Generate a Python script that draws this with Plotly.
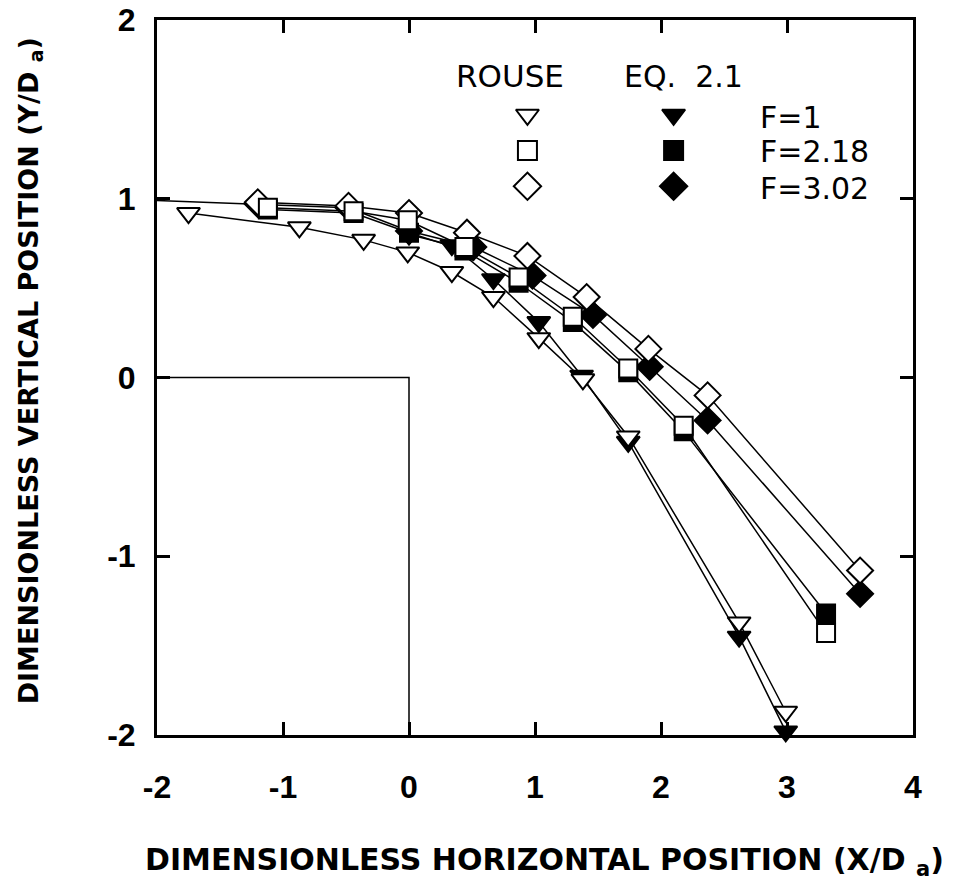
import plotly.graph_objects as go

# ---- data ----
ROUSE_F1_X = [-1.75, -0.87, -0.36, -0.01, 0.34, 0.67, 1.03, 1.38, 1.74, 2.62, 2.99]
ROUSE_F1_Y = [0.92, 0.84, 0.77, 0.70, 0.59, 0.45, 0.22, -0.01, -0.33, -1.37, -1.87]

EQ_F1_X = [0.0, 0.34, 0.67, 1.03, 1.37, 1.74, 2.62, 2.99]
EQ_F1_Y = [0.80, 0.74, 0.55, 0.31, 0.01, -0.36, -1.45, -1.98]

ROUSE_F218_X = [-1.12, -0.44, -0.01, 0.44, 0.87, 1.30, 1.74, 2.18, 3.31]
ROUSE_F218_Y = [0.95, 0.93, 0.88, 0.73, 0.56, 0.34, 0.05, -0.27, -1.43]

EQ_F218_X = [-1.12, -0.44, 0.0, 0.44, 0.87, 1.30, 1.74, 2.18, 3.31]
EQ_F218_Y = [0.94, 0.92, 0.81, 0.71, 0.53, 0.31, 0.03, -0.30, -1.32]

ROUSE_F302_X = [-1.20, -0.48, 0.0, 0.46, 0.94, 1.41, 1.90, 2.37, 3.58]
ROUSE_F302_Y = [0.98, 0.96, 0.92, 0.81, 0.68, 0.45, 0.16, -0.10, -1.08]

EQ_F302_X = [-2.0, -1.20, -0.48, 0.0, 0.51, 0.98, 1.46, 1.91, 2.37, 3.58]
EQ_F302_Y = [0.99, 0.97, 0.95, 0.82, 0.73, 0.57, 0.35, 0.06, -0.24, -1.21]

WALL_X = [-2, 0, 0]
WALL_Y = [0, 0, -2]

LEGEND_LABELS = ["F=1", "F=2.18", "F=3.02"]
LEGEND_COL_X = [0.94, 2.10]          # legend key columns (ROUSE, EQ. 2.1)
LEGEND_ROW_Y = [1.47, 1.27, 1.07]    # legend key rows

X_TICKS = [-2, -1, 0, 1, 2, 3, 4]
Y_TICKS = [-2, -1, 0, 1, 2]

FONT = "Liberation Sans, Arial, sans-serif"
LFONT = "DejaVu Sans, sans-serif"

fig = go.Figure()

# wall outline
fig.add_trace(go.Scatter(x=WALL_X, y=WALL_Y, mode="lines",
                         line=dict(color="black", width=1.5),
                         hoverinfo="skip", showlegend=False))

def add_series(xs, ys, symbol, filled, size):
    sizes = [0 if x <= -2 else size for x in xs]
    fig.add_trace(go.Scatter(
        x=xs, y=ys, mode="lines+markers",
        line=dict(color="black", width=1.5),
        marker=dict(symbol=symbol, size=sizes, opacity=1,
                    color="black" if filled else "white",
                    line=dict(color="black", width=2)),
        cliponaxis=False, showlegend=False))

# EQ 2.1 (filled) underneath
add_series(EQ_F302_X, EQ_F302_Y, "diamond", True, 20)
add_series(EQ_F218_X, EQ_F218_Y, "square", True, 18)
add_series(EQ_F1_X, EQ_F1_Y, "triangle-down", True, 20)
# ROUSE (open) on top
add_series(ROUSE_F302_X, ROUSE_F302_Y, "diamond", False, 20)
add_series(ROUSE_F218_X, ROUSE_F218_Y, "square", False, 18)
add_series(ROUSE_F1_X, ROUSE_F1_Y, "triangle-down", False, 20)

# legend keys
symbols = ["triangle-down", "square", "diamond"]
lsizes = [20, 19, 21]
for ci, filled in enumerate([False, True]):
    fig.add_trace(go.Scatter(
        x=[LEGEND_COL_X[ci]] * 3, y=LEGEND_ROW_Y, mode="markers",
        marker=dict(symbol=symbols, size=lsizes, opacity=1,
                    color="black" if filled else "white",
                    line=dict(color="black", width=2)),
        hoverinfo="skip", showlegend=False))

# invisible trace on the top mirror axis so it is drawn
fig.add_trace(go.Scatter(x=[], y=[], xaxis="x2", yaxis="y", showlegend=False))

ann = []
ann.append(dict(x=0.80, y=1.685, xref="x", yref="y", text="ROUSE", showarrow=False,
                font=dict(family=LFONT, size=31, color="black"), xanchor="center", yanchor="middle"))
ann.append(dict(x=2.18, y=1.685, xref="x", yref="y", text="EQ.\u00a0\u00a02.1", showarrow=False,
                font=dict(family=LFONT, size=30, color="black"), xanchor="center", yanchor="middle"))
for lab, yy in zip(LEGEND_LABELS, [1.455, 1.265, 1.055]):
    ann.append(dict(x=2.77, y=yy, xref="x", yref="y", text=lab, showarrow=False,
                    font=dict(family=LFONT, size=30, color="black"), xanchor="left", yanchor="middle"))
# axis titles
ann.append(dict(x=0.513, y=-0.177, xref="paper", yref="paper",
                text="<b>DIMENSIONLESS HORIZONTAL POSITION (X/D <sub>a</sub>)</b>",
                showarrow=False, font=dict(family=LFONT, size=30, color="black"),
                xanchor="center", yanchor="middle"))
ann.append(dict(x=-0.168, y=0.51, xref="paper", yref="paper",
                text="<b>DIMENSIONLESS VERTICAL POSITION (Y/D <sub>a</sub>)</b>",
                showarrow=False, textangle=-90, font=dict(family=LFONT, size=27, color="black"),
                xanchor="center", yanchor="middle"))

axis_common = dict(showgrid=False, zeroline=False, showline=True, linecolor="black",
                   linewidth=3, ticks="inside", ticklen=13, tickwidth=3,
                   tickcolor="black", automargin=False,
                   tickfont=dict(family=FONT, size=32, color="black", weight="bold"))

fig.update_layout(
    width=967, height=894,
    margin=dict(l=157, r=54, t=20, b=159, autoexpand=False),
    paper_bgcolor="white", plot_bgcolor="white",
    xaxis=dict(range=[-2, 4], tickvals=X_TICKS, ticktext=[str(v) for v in X_TICKS],
               ticklabelstandoff=22, mirror=False, **axis_common),
    xaxis2=dict(range=[-2, 4], tickvals=X_TICKS, overlaying="x", anchor="y", side="top",
                showticklabels=False, mirror=False, **axis_common),
    yaxis=dict(range=[-2, 2], tickvals=Y_TICKS, ticktext=[str(v) for v in Y_TICKS],
               ticklabelstandoff=12, mirror="ticks", ticklabeloverflow="allow",
               **axis_common),
    annotations=ann,
    showlegend=False,
)

fig.write_html("out.html")
